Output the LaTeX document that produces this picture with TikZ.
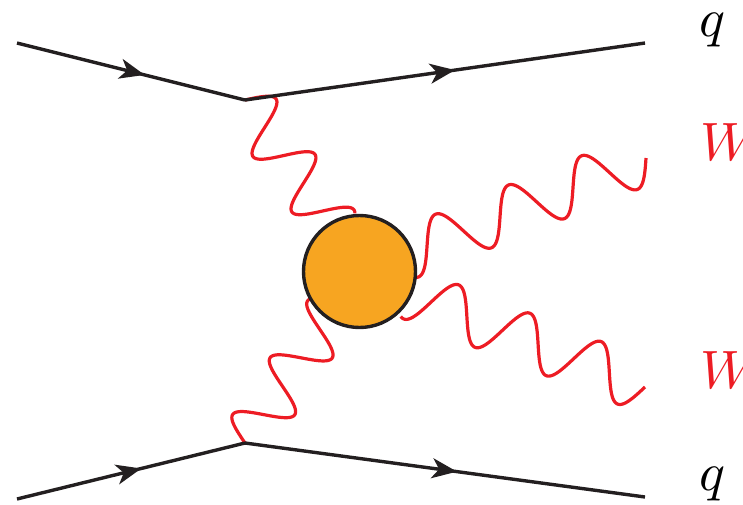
\documentclass[tikz,border=0pt]{standalone}
\usetikzlibrary{decorations.markings,arrows.meta}
\definecolor{fermi}{HTML}{231F20}
\definecolor{bosonred}{HTML}{ED1C24}
\definecolor{bloborange}{HTML}{F7A521}
\begin{document}
\begin{tikzpicture}[x=1pt,y=-1pt,
  fermion/.style={draw=fermi, line width=3.4pt, postaction={decorate},
    decoration={markings, mark=at position #1 with {\arrow{Stealth[length=25pt,width=20pt,inset=7pt]}}}},
  photon/.style={draw=bosonred, line width=3.2pt, line join=round},
  lbl/.style={anchor=base west, inner sep=0pt, scale=5.4},
  blobstyle/.style={circle, draw=fermi, fill=bloborange, line width=3.4pt, minimum size=112pt, inner sep=0pt}
]
\clip (0,0) rectangle (743,504);
% vertices and free ends
\coordinate (inT) at (17,43);
\coordinate (vT) at (245,100);
\coordinate (outT) at (645,43);
\coordinate (inB) at (17,499);
\coordinate (vB) at (245,443);
\coordinate (outB) at (645,497);
\coordinate (w1) at (646,158);
\coordinate (w2) at (645,387);
% photons (sine waves)
\draw[photon, shift={(vT)}, rotate=-54.9] plot[domain=0:156, samples=160] (\x,{-26*sin(\x/67.8*360)});
\draw[photon, shift={(vB)}, rotate=56.6] plot[domain=0:156, samples=160] (\x,{-26*sin(\x/68*360)});
\draw[photon, shift={(w1)}, rotate=201.8] plot[domain=0:259, samples=220] (\x,{-26*sin(\x/78.6*360)});
\draw[photon, shift={(w2)}, rotate=158.3] plot[domain=0:253, samples=220] (\x,{-26*sin(\x/76.7*360)});
% blob
\node[blobstyle] (blob) at (359.5,271.5) {};
% fermion lines
\draw[fermion=0.56] (inT) -- (vT);
\draw[fermion=0.525] (vT) -- (outT);
\draw[fermion=0.545] (inB) -- (vB);
\draw[fermion=0.53] (vB) -- (outB);
% labels
\node[lbl] (q1) at (698,36) {$q$};
\node[lbl, text=bosonred] (W1) at (699,160) {$W$};
\node[lbl, text=bosonred] (W2) at (699,388) {$W$};
\node[lbl] (q2) at (698,490) {$q$};
\end{tikzpicture}
\end{document}
